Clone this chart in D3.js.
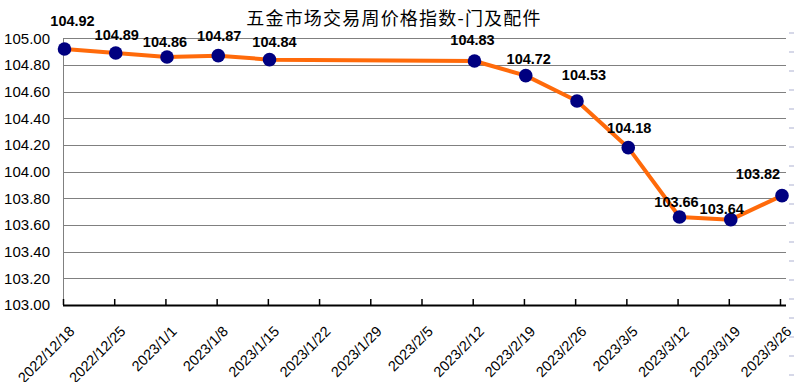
<!DOCTYPE html>
<html><head><meta charset="utf-8">
<script src="https://cdn.jsdelivr.net/npm/d3@7"></script>
<style>body{margin:0;background:#fff;} svg{display:block;}</style>
</head><body>
<svg id="c" width="794" height="382"></svg>
<script>
const title = "五金市场交易周价格指数-门及配件";
const categories = ["2022/12/18","2022/12/25","2023/1/1","2023/1/8","2023/1/15","2023/1/22","2023/1/29","2023/2/5","2023/2/12","2023/2/19","2023/2/26","2023/3/5","2023/3/12","2023/3/19","2023/3/26"];
const values = [104.92,104.89,104.86,104.87,104.84,null,null,null,104.83,104.72,104.53,104.18,103.66,103.64,103.82];
const yTicks = [103.00,103.20,103.40,103.60,103.80,104.00,104.20,104.40,104.60,104.80,105.00];
// label nudges relative to each point [dx, dy]
const labelNudge = [[8,-23],[1,-13],[-2,-10],[1,-15],[5,-13],[0,0],[0,0],[0,0],[-2,-16],[3,-12],[7,-21],[1,-15],[-3,-10],[-9,-6],[-24,-17]];

const svg = d3.select("#c");
const L = 63, R = 786, T = 38.3, B = 305;
const x = d3.scalePoint().domain(categories).range([64.5, 782]);
const xt = d3.scalePoint().domain(categories).range([63, 780]);
const y = d3.scaleLinear().domain([103, 105]).range([B, T]);

// right-edge faint dashes
svg.append("g").selectAll("line").data(d3.range(33, 382, 19)).join("line")
  .attr("x1", 789).attr("x2", 794).attr("y1", d => d).attr("y2", d => d)
  .attr("stroke", "#c8cbe0").attr("stroke-width", 1.5);

// gridlines
svg.append("g").selectAll("line").data(yTicks.slice(1)).join("line")
  .attr("x1", L).attr("x2", R)
  .attr("y1", d => Math.round(y(d)) + 0.5).attr("y2", d => Math.round(y(d)) + 0.5)
  .attr("stroke", "#808080").attr("stroke-width", 1);

// left axis line
svg.append("line").attr("x1", L + 0.5).attr("x2", L + 0.5).attr("y1", Math.round(T)).attr("y2", B)
  .attr("stroke", "#808080");

// y labels
const yAxis = d3.axisLeft(y).tickValues(yTicks).tickFormat(d3.format(".2f")).tickSize(0).tickPadding(0);
const ya = svg.append("g").attr("transform", `translate(50,0)`).call(yAxis);
ya.select(".domain").remove();
ya.selectAll("text").attr("font-family", "Liberation Sans, Arial, sans-serif").attr("font-size", 15).attr("fill", "#000");

// x axis
svg.append("line").attr("x1", L).attr("x2", R).attr("y1", B + 0.5).attr("y2", B + 0.5)
  .attr("stroke", "#000").attr("stroke-width", 2);
const xAxis = d3.axisTop(xt).tickSize(6).tickFormat("");
const xa = svg.append("g").attr("transform", `translate(0,${B})`).call(xAxis);
xa.select(".domain").remove();
xa.selectAll("line").attr("stroke", "#000").attr("stroke-width", 1.5);

svg.append("g").selectAll("text").data(categories).join("text")
  .attr("transform", d => `translate(${xt(d) + 5},${B + 20}) rotate(-45)`)
  .attr("text-anchor", "end")
  .attr("dominant-baseline", "hanging")
  .attr("font-family", "Liberation Sans, Arial, sans-serif").attr("font-size", 14.5)
  .attr("fill", "#000").text(d => d);

// data
const pts = categories.map((c, i) => ({c, v: values[i], i})).filter(d => d.v !== null);
const line = d3.line().x(d => x(d.c)).y(d => y(d.v));
svg.append("path").datum(pts).attr("d", line)
  .attr("fill", "none").attr("stroke", "#FF6A0A").attr("stroke-width", 4).attr("stroke-linejoin", "round");

svg.append("g").selectAll("circle").data(pts).join("circle")
  .attr("cx", d => x(d.c)).attr("cy", d => y(d.v)).attr("r", 6.8).attr("fill", "#000080");

svg.append("g").selectAll("text").data(pts).join("text")
  .attr("x", d => x(d.c) + labelNudge[d.i][0]).attr("y", d => y(d.v) + labelNudge[d.i][1])
  .attr("text-anchor", "middle")
  .attr("font-family", "Liberation Sans, Arial, sans-serif").attr("font-size", 14.5).attr("font-weight", "bold")
  .attr("fill", "#000").text(d => d.v.toFixed(2));

// title
svg.append("text").attr("x", 394).attr("y", 25).attr("text-anchor", "middle")
  .attr("font-family", "Noto Sans CJK SC, sans-serif").attr("font-size", 18).attr("letter-spacing", 1.2)
  .attr("fill", "#000").text(title);
</script>
</body></html>
